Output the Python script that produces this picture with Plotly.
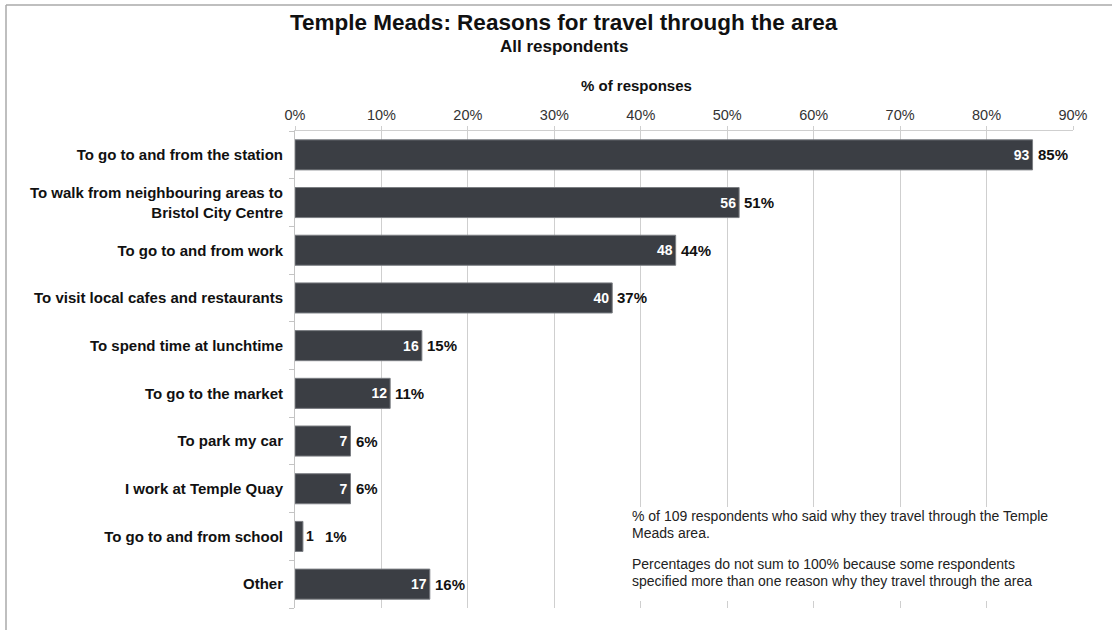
import plotly.graph_objects as go

# Survey data: reasons for travelling through Temple Meads (multiple answers allowed)
reasons = [
    "To go to and from the station",
    "To walk from neighbouring areas to<br>Bristol City Centre",
    "To go to and from work",
    "To visit local cafes and restaurants",
    "To spend time at lunchtime",
    "To go to the market",
    "To park my car",
    "I work at Temple Quay",
    "To go to and from school",
    "Other",
]
counts = [93, 56, 48, 40, 16, 12, 7, 7, 1, 17]
total_respondents = 109
x_ticks = [0, 10, 20, 30, 40, 50, 60, 70, 80, 90]

note_lines = [
    f"% of {total_respondents} respondents who said why they travel through the Temple",
    "Meads area.",
    "Percentages do not sum to 100% because some respondents",
    "specified more than one reason why they travel through the area",
]

pct = [c / total_respondents * 100 for c in counts]

W, H = 1112, 630
ML, MR, MT, MB = 295, 39, 131, 22
PW, PH = W - ML - MR, H - MT - MB


def px(x):
    return (x - ML) / PW


def py(y):
    return 1 - (y - MT) / PH


FONT = "Liberation Sans, Arial, sans-serif"
BAR = "#3b3e44"

# counts sit inside the bar end; very short bars get them outside
positions = ["inside" if p > 3 else "outside" for p in pct]
count_colors = ["white" if p > 3 else "#111111" for p in pct]

fig = go.Figure()
fig.add_trace(go.Bar(
    x=pct,
    y=reasons,
    orientation="h",
    marker=dict(color=BAR, line=dict(color="#7a7d82", width=1)),
    width=0.63,
    text=[f"<b>{c}</b>" for c in counts],
    textposition=positions,
    insidetextanchor="end",
    textfont=dict(family=FONT, size=14, color=count_colors),
    cliponaxis=False,
    hoverinfo="skip",
))

annotations = []
for r, p, pos in zip(reasons, pct, positions):
    annotations.append(dict(
        x=p, y=r, xref="x", yref="y",
        text=f"<b>{round(p):.0f}%</b>",
        showarrow=False, xanchor="left", yanchor="middle",
        xshift=3 if pos == "inside" else 20,
        font=dict(family=FONT, size=15, color="#111111"),
    ))

# title block
annotations += [
    dict(x=px(564), y=py(22), xref="paper", yref="paper",
         text="<b>Temple Meads: Reasons for travel through the area</b>",
         showarrow=False, xanchor="center", yanchor="middle",
         font=dict(family=FONT, size=22.5, color="#111111")),
    dict(x=px(564), y=py(46), xref="paper", yref="paper",
         text="<b>All respondents</b>",
         showarrow=False, xanchor="center", yanchor="middle",
         font=dict(family=FONT, size=17, color="#111111")),
    dict(x=px(636), y=py(85), xref="paper", yref="paper",
         text="<b>% of responses</b>",
         showarrow=False, xanchor="center", yanchor="middle",
         font=dict(family=FONT, size=15, color="#111111")),
]

# explanatory note, one annotation per line
for line, yc in zip(note_lines, [516, 533, 564, 581]):
    annotations.append(dict(
        x=px(630), y=py(yc), xref="paper", yref="paper",
        text=line, showarrow=False, xanchor="left", yanchor="middle",
        font=dict(family=FONT, size=14, color="#222222"),
    ))

shapes = [
    # note background
    dict(type="rect", xref="paper", yref="paper",
         x0=px(624), x1=px(1066), y0=py(601), y1=py(507),
         fillcolor="white", line=dict(width=0), layer="above"),
    # outer frame (top and left edges)
    dict(type="line", xref="paper", yref="paper",
         x0=px(6), x1=px(W + 2), y0=py(5), y1=py(5),
         line=dict(color="#aaaaaa", width=1.5)),
    dict(type="line", xref="paper", yref="paper",
         x0=px(6), x1=px(6), y0=py(5), y1=py(H + 2),
         line=dict(color="#aaaaaa", width=1.5)),
]

fig.update_layout(
    width=W, height=H,
    margin=dict(l=ML, r=MR, t=MT, b=MB, autoexpand=False),
    paper_bgcolor="white", plot_bgcolor="white",
    showlegend=False,
    bargap=0.37,
    annotations=annotations,
    shapes=shapes,
    font=dict(family=FONT),
)

fig.update_xaxes(
    side="top", range=[0, 90], tickvals=x_ticks,
    ticktext=[f"{t}%" for t in x_ticks],
    showgrid=True, gridcolor="#cfcfcf", gridwidth=1,
    showline=True, linecolor="#cfcfcf", linewidth=1,
    ticks="outside", ticklen=4, tickcolor="#cfcfcf",
    tickfont=dict(family=FONT, size=14.5, color="#333333"),
    zeroline=False, fixedrange=True,
)
fig.update_yaxes(
    categoryorder="array", categoryarray=reasons[::-1],
    showgrid=False, showline=True, linecolor="#c4c4c4", linewidth=1,
    ticks="outside", tickson="boundaries", ticklen=5, tickcolor="#c4c4c4",
    ticklabelstandoff=8,
    tickfont=dict(family=FONT, size=15, color="#111111", weight="bold"),
    fixedrange=True,
)

fig.write_html("out.html")
